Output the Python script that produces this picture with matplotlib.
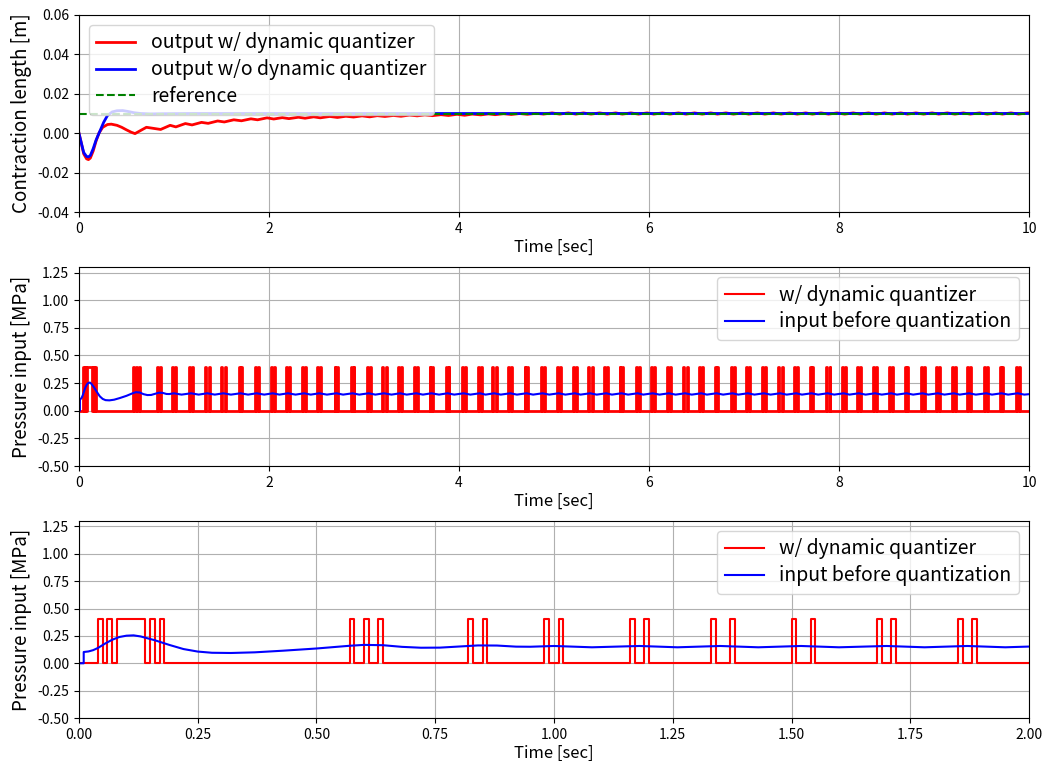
import numpy as np
import matplotlib
matplotlib.use("Agg")
import matplotlib.pyplot as plt

plt.rcParams['font.family'] = ['Noto Sans CJK JP', 'DejaVu Sans']
plt.rcParams['axes.unicode_minus'] = True

# quantized pressure input: pulse rising / falling edges [sec], level [MPa]
pulse_level = 0.4
pulse_on = [0.04, 0.06, 0.08, 0.15, 0.17, 0.57, 0.60, 0.63, 0.82, 0.85,
            0.98, 1.01, 1.16, 1.19, 1.33, 1.37, 1.50, 1.54, 1.68, 1.71,
            1.85, 1.88, 2.02, 2.05, 2.18, 2.21, 2.35, 2.38, 2.51, 2.54,
            2.69, 2.72, 2.86, 2.89, 3.03, 3.06, 3.19, 3.23, 3.36, 3.39,
            3.53, 3.56, 3.69, 3.72, 3.86, 3.89, 4.03, 4.06, 4.20, 4.23,
            4.35, 4.39, 4.52, 4.55, 4.69, 4.72, 4.86, 4.90, 5.03, 5.06,
            5.20, 5.23, 5.36, 5.40, 5.53, 5.56, 5.69, 5.72, 5.86, 5.90,
            6.02, 6.05, 6.19, 6.22, 6.36, 6.40, 6.53, 6.56, 6.69, 6.72,
            6.86, 6.89, 7.02, 7.05, 7.19, 7.22, 7.36, 7.40, 7.53, 7.56,
            7.69, 7.72, 7.86, 7.90, 8.03, 8.06, 8.19, 8.22, 8.36, 8.39,
            8.53, 8.56, 8.69, 8.72, 8.86, 8.89, 9.02, 9.05, 9.19, 9.22,
            9.35, 9.38, 9.53, 9.56, 9.69, 9.72, 9.86, 9.89]
pulse_off = [0.05, 0.07, 0.14, 0.16, 0.18, 0.58, 0.61, 0.64, 0.83, 0.86,
             0.99, 1.02, 1.17, 1.20, 1.34, 1.38, 1.51, 1.55, 1.69, 1.72,
             1.86, 1.89, 2.03, 2.06, 2.19, 2.22, 2.36, 2.39, 2.52, 2.55,
             2.70, 2.73, 2.87, 2.90, 3.04, 3.07, 3.20, 3.24, 3.37, 3.40,
             3.54, 3.57, 3.70, 3.73, 3.87, 3.90, 4.04, 4.07, 4.21, 4.24,
             4.36, 4.40, 4.53, 4.56, 4.70, 4.73, 4.87, 4.91, 5.04, 5.07,
             5.21, 5.24, 5.37, 5.41, 5.54, 5.57, 5.70, 5.73, 5.87, 5.91,
             6.03, 6.06, 6.20, 6.23, 6.37, 6.41, 6.54, 6.57, 6.70, 6.73,
             6.87, 6.90, 7.03, 7.06, 7.20, 7.23, 7.37, 7.41, 7.54, 7.57,
             7.70, 7.73, 7.87, 7.91, 8.04, 8.07, 8.20, 8.23, 8.37, 8.40,
             8.54, 8.57, 8.70, 8.73, 8.87, 8.90, 9.03, 9.06, 9.20, 9.23,
             9.36, 9.39, 9.54, 9.57, 9.70, 9.73, 9.87, 9.90]

# pressure input before quantization [MPa]
u_t = [0, 0.01, 0.01, 0.02, 0.03, 0.04, 0.055, 0.07, 0.085, 0.10, 0.115,
       0.13, 0.16, 0.19, 0.22, 0.25, 0.28, 0.32, 0.37, 0.43, 0.50, 0.57,
       0.60, 0.64, 0.68, 0.72, 0.76, 0.80, 0.84, 0.88, 0.92, 0.95,
       1.00, 1.08, 1.18, 1.26, 1.35, 1.43, 1.52, 1.60, 1.70, 1.78,
       1.87, 1.95, 2.04, 2.11, 2.20, 2.28, 2.37, 2.44, 2.53, 2.61,
       2.71, 2.78, 2.88, 2.95, 3.05, 3.12, 3.21, 3.29, 3.38, 3.45,
       3.55, 3.62, 3.71, 3.79, 3.88, 3.95, 4.05, 4.12, 4.22, 4.28,
       4.37, 4.44, 4.54, 4.61, 4.71, 4.78, 4.88, 4.95, 5.05, 5.12,
       5.22, 5.28, 5.38, 5.45, 5.55, 5.61, 5.71, 5.78, 5.88, 5.94,
       6.04, 6.11, 6.21, 6.28, 6.38, 6.45, 6.55, 6.61, 6.71, 6.78,
       6.88, 6.94, 7.04, 7.11, 7.21, 7.28, 7.38, 7.45, 7.55, 7.61,
       7.71, 7.78, 7.88, 7.95, 8.05, 8.11, 8.21, 8.28, 8.38, 8.45,
       8.55, 8.61, 8.71, 8.78, 8.88, 8.94, 9.04, 9.11, 9.21, 9.27,
       9.37, 9.44, 9.55, 9.61, 9.71, 9.78, 9.88, 9.95,
       10.0]
u_val = [0, 0, 0.103, 0.108, 0.120, 0.140, 0.180, 0.215, 0.240, 0.252, 0.255,
         0.245, 0.210, 0.168, 0.130, 0.107, 0.096, 0.094, 0.100, 0.115, 0.135,
         0.160, 0.168, 0.165, 0.150, 0.142, 0.143, 0.153, 0.163, 0.162, 0.152,
         0.151,
         0.158, 0.146, 0.158, 0.146, 0.158, 0.146, 0.158, 0.146, 0.158, 0.146,
         0.158, 0.146, 0.158, 0.146, 0.158, 0.146, 0.158, 0.146, 0.158, 0.146,
         0.158, 0.146, 0.158, 0.146, 0.158, 0.146, 0.158, 0.146, 0.158, 0.146,
         0.158, 0.146, 0.158, 0.146, 0.158, 0.146, 0.158, 0.146, 0.158, 0.146,
         0.158, 0.146, 0.158, 0.146, 0.158, 0.146, 0.158, 0.146, 0.158, 0.146,
         0.158, 0.146, 0.158, 0.146, 0.158, 0.146, 0.158, 0.146, 0.158, 0.146,
         0.158, 0.146, 0.158, 0.146, 0.158, 0.146, 0.158, 0.146, 0.158, 0.146,
         0.158, 0.146, 0.158, 0.146, 0.158, 0.146, 0.158, 0.146, 0.158, 0.146,
         0.158, 0.146, 0.158, 0.146, 0.158, 0.146, 0.158, 0.146, 0.158, 0.146,
         0.158, 0.146, 0.158, 0.146, 0.158, 0.146, 0.158, 0.146, 0.158, 0.146,
         0.158, 0.146, 0.158, 0.146, 0.158, 0.146, 0.158, 0.146,
         0.150]

# contraction length with dynamic quantizer [m]
yq_t = [0, 0.02, 0.05, 0.08, 0.10, 0.12, 0.15, 0.18, 0.21, 0.25, 0.30, 0.34,
        0.40, 0.45, 0.50, 0.55, 0.59,
        0.71, 0.86, 0.96, 1.02, 1.12, 1.19, 1.29, 1.36,
        1.46, 1.53, 1.63, 1.71, 1.81, 1.88, 1.98, 2.05,
        2.14, 2.21, 2.31, 2.38, 2.47, 2.54, 2.64, 2.72,
        2.81, 2.89, 2.98, 3.06, 3.14, 3.22, 3.31, 3.39,
        3.48, 3.56, 3.64, 3.72, 3.81, 3.89, 3.98, 4.06,
        4.14, 4.23, 4.31, 4.38, 4.47, 4.55, 4.64, 4.72,
        4.81, 4.89, 4.98, 5.06, 5.15, 5.23, 5.31, 5.39,
        5.48, 5.56, 5.65, 5.72, 5.81, 5.89, 5.98, 6.05,
        6.14, 6.22, 6.31, 6.39, 6.48, 6.56, 6.65, 6.72,
        6.81, 6.89, 6.98, 7.05, 7.14, 7.22, 7.31, 7.39,
        7.48, 7.56, 7.65, 7.72, 7.81, 7.89, 7.98, 8.06,
        8.15, 8.22, 8.31, 8.39, 8.48, 8.56, 8.65, 8.72,
        8.81, 8.89, 8.98, 9.05, 9.14, 9.22, 9.31, 9.38,
        9.48, 9.56, 9.65, 9.72, 9.81, 9.89, 9.98, 10.0]
yq_val = [0, -0.0040, -0.0105, -0.0130, -0.0134, -0.0126, -0.0090, -0.0040,
          0.0000, 0.0030, 0.0044, 0.0046, 0.0040, 0.0030, 0.0017, 0.0005,
          -0.0002,
          0.0030, 0.0019, 0.0040, 0.0032, 0.0049, 0.0042, 0.0055, 0.0050,
          0.0062, 0.0057, 0.0068, 0.0063, 0.0073, 0.0068, 0.0078, 0.0072,
          0.0079, 0.0074, 0.0081, 0.0076, 0.0083, 0.0078, 0.0085, 0.0080,
          0.0086, 0.0082, 0.0088, 0.0083, 0.0089, 0.0085, 0.0090, 0.0086,
          0.0092, 0.0088, 0.0093, 0.0089, 0.0094, 0.0090, 0.0096, 0.0091,
          0.0097, 0.0093, 0.0098, 0.0094, 0.0099, 0.0095, 0.0100, 0.0096,
          0.0101, 0.0097, 0.0103, 0.0097, 0.0103, 0.0097, 0.0103, 0.0097,
          0.0103, 0.0097, 0.0103, 0.0097, 0.0103, 0.0097, 0.0103, 0.0097,
          0.0103, 0.0097, 0.0103, 0.0097, 0.0103, 0.0097, 0.0103, 0.0097,
          0.0103, 0.0097, 0.0103, 0.0097, 0.0103, 0.0097, 0.0103, 0.0097,
          0.0103, 0.0097, 0.0103, 0.0097, 0.0103, 0.0097, 0.0103, 0.0097,
          0.0103, 0.0097, 0.0103, 0.0097, 0.0103, 0.0097, 0.0103, 0.0097,
          0.0103, 0.0097, 0.0103, 0.0097, 0.0103, 0.0097, 0.0103, 0.0097,
          0.0103, 0.0097, 0.0103, 0.0097, 0.0103, 0.0097, 0.0103, 0.0103]

# contraction length without dynamic quantizer [m]
y_t = [0, 0.02, 0.05, 0.08, 0.10, 0.12, 0.15, 0.18, 0.22, 0.26, 0.30, 0.35,
       0.40, 0.46, 0.52, 0.58, 0.65, 0.75, 0.90, 1.20, 10.0]
y_val = [0, -0.0040, -0.0098, -0.0118, -0.0120, -0.0113, -0.0078, -0.0035,
         0.0010, 0.0055, 0.0090, 0.0108, 0.0114, 0.0115, 0.0110, 0.0104,
         0.0100, 0.0098, 0.0099, 0.0100, 0.0100]

ref_t = [0, 10]
ref_val = [0.01, 0.01]

# build the step signal from the pulse edges
q_t = [0.0]
q_val = [0.0]
for on, off in zip(pulse_on, pulse_off):
    q_t += [on, on, off, off]
    q_val += [0.0, pulse_level, pulse_level, 0.0]
q_t.append(10.0)
q_val.append(0.0)

fig = plt.figure(figsize=(10.43, 7.61), dpi=100)
left, right = 0.0757, 0.9866
ax1 = fig.add_axes([left, 0.7214, right - left, 0.9803 - 0.7214])
ax2 = fig.add_axes([left, 0.3876, right - left, 0.6491 - 0.3876])
ax3 = fig.add_axes([left, 0.0565, right - left, 0.3154 - 0.0565])

tick_fs = 10
label_fs = 13.5
leg_fs = 14
xlab_fs = 12

# top: contraction length
ax1.plot(yq_t, yq_val, color='red', lw=2, label='output w/ dynamic quantizer')
ax1.plot(y_t, y_val, color='blue', lw=2, label='output w/o dynamic quantizer')
ax1.plot(ref_t, ref_val, color='green', ls='--', lw=1.5, label='reference')
ax1.set_xlim(0, 10)
ax1.set_ylim(-0.04, 0.06)
ax1.set_yticks([-0.04, -0.02, 0.0, 0.02, 0.04, 0.06])
ax1.set_xticks([0, 2, 4, 6, 8, 10])
ax1.set_ylabel('Contraction length [m]', fontsize=label_fs)
ax1.set_xlabel('Time [sec]', fontsize=xlab_fs, labelpad=2)
ax1.grid(True)
ax1.legend(loc='upper left', fontsize=leg_fs, labelspacing=0.3, borderpad=0.4)

# middle and bottom: pressure input
for ax, red_lw in ((ax2, 2.0), (ax3, 1.5)):
    ax.plot(q_t, q_val, color='red', lw=red_lw, label='w/ dynamic quantizer')
    ax.plot(u_t, u_val, color='blue', lw=1.5, label='input before quantization')
    ax.set_ylim(-0.5, 1.3)
    ax.set_yticks([-0.5, -0.25, 0.0, 0.25, 0.5, 0.75, 1.0, 1.25])
    ax.set_ylabel('Pressure input [MPa]', fontsize=label_fs)
    ax.set_xlabel('Time [sec]', fontsize=xlab_fs, labelpad=2)
    ax.grid(True)
    leg = ax.legend(loc='upper right', fontsize=leg_fs, labelspacing=0.3,
                    borderpad=0.4)
    for h in leg.get_lines():
        h.set_linewidth(1.5)

ax2.set_xlim(0, 10)
ax2.set_xticks([0, 2, 4, 6, 8, 10])
ax3.set_xlim(0, 2)
ax3.set_xticks([0, 0.25, 0.5, 0.75, 1.0, 1.25, 1.5, 1.75, 2.0])
ax3.xaxis.set_major_formatter(matplotlib.ticker.FormatStrFormatter('%.2f'))

for ax in (ax1, ax2, ax3):
    ax.tick_params(labelsize=tick_fs)
    ax.yaxis.set_major_formatter(matplotlib.ticker.FormatStrFormatter('%.2f'))

fig.savefig('out.png', dpi=100)
